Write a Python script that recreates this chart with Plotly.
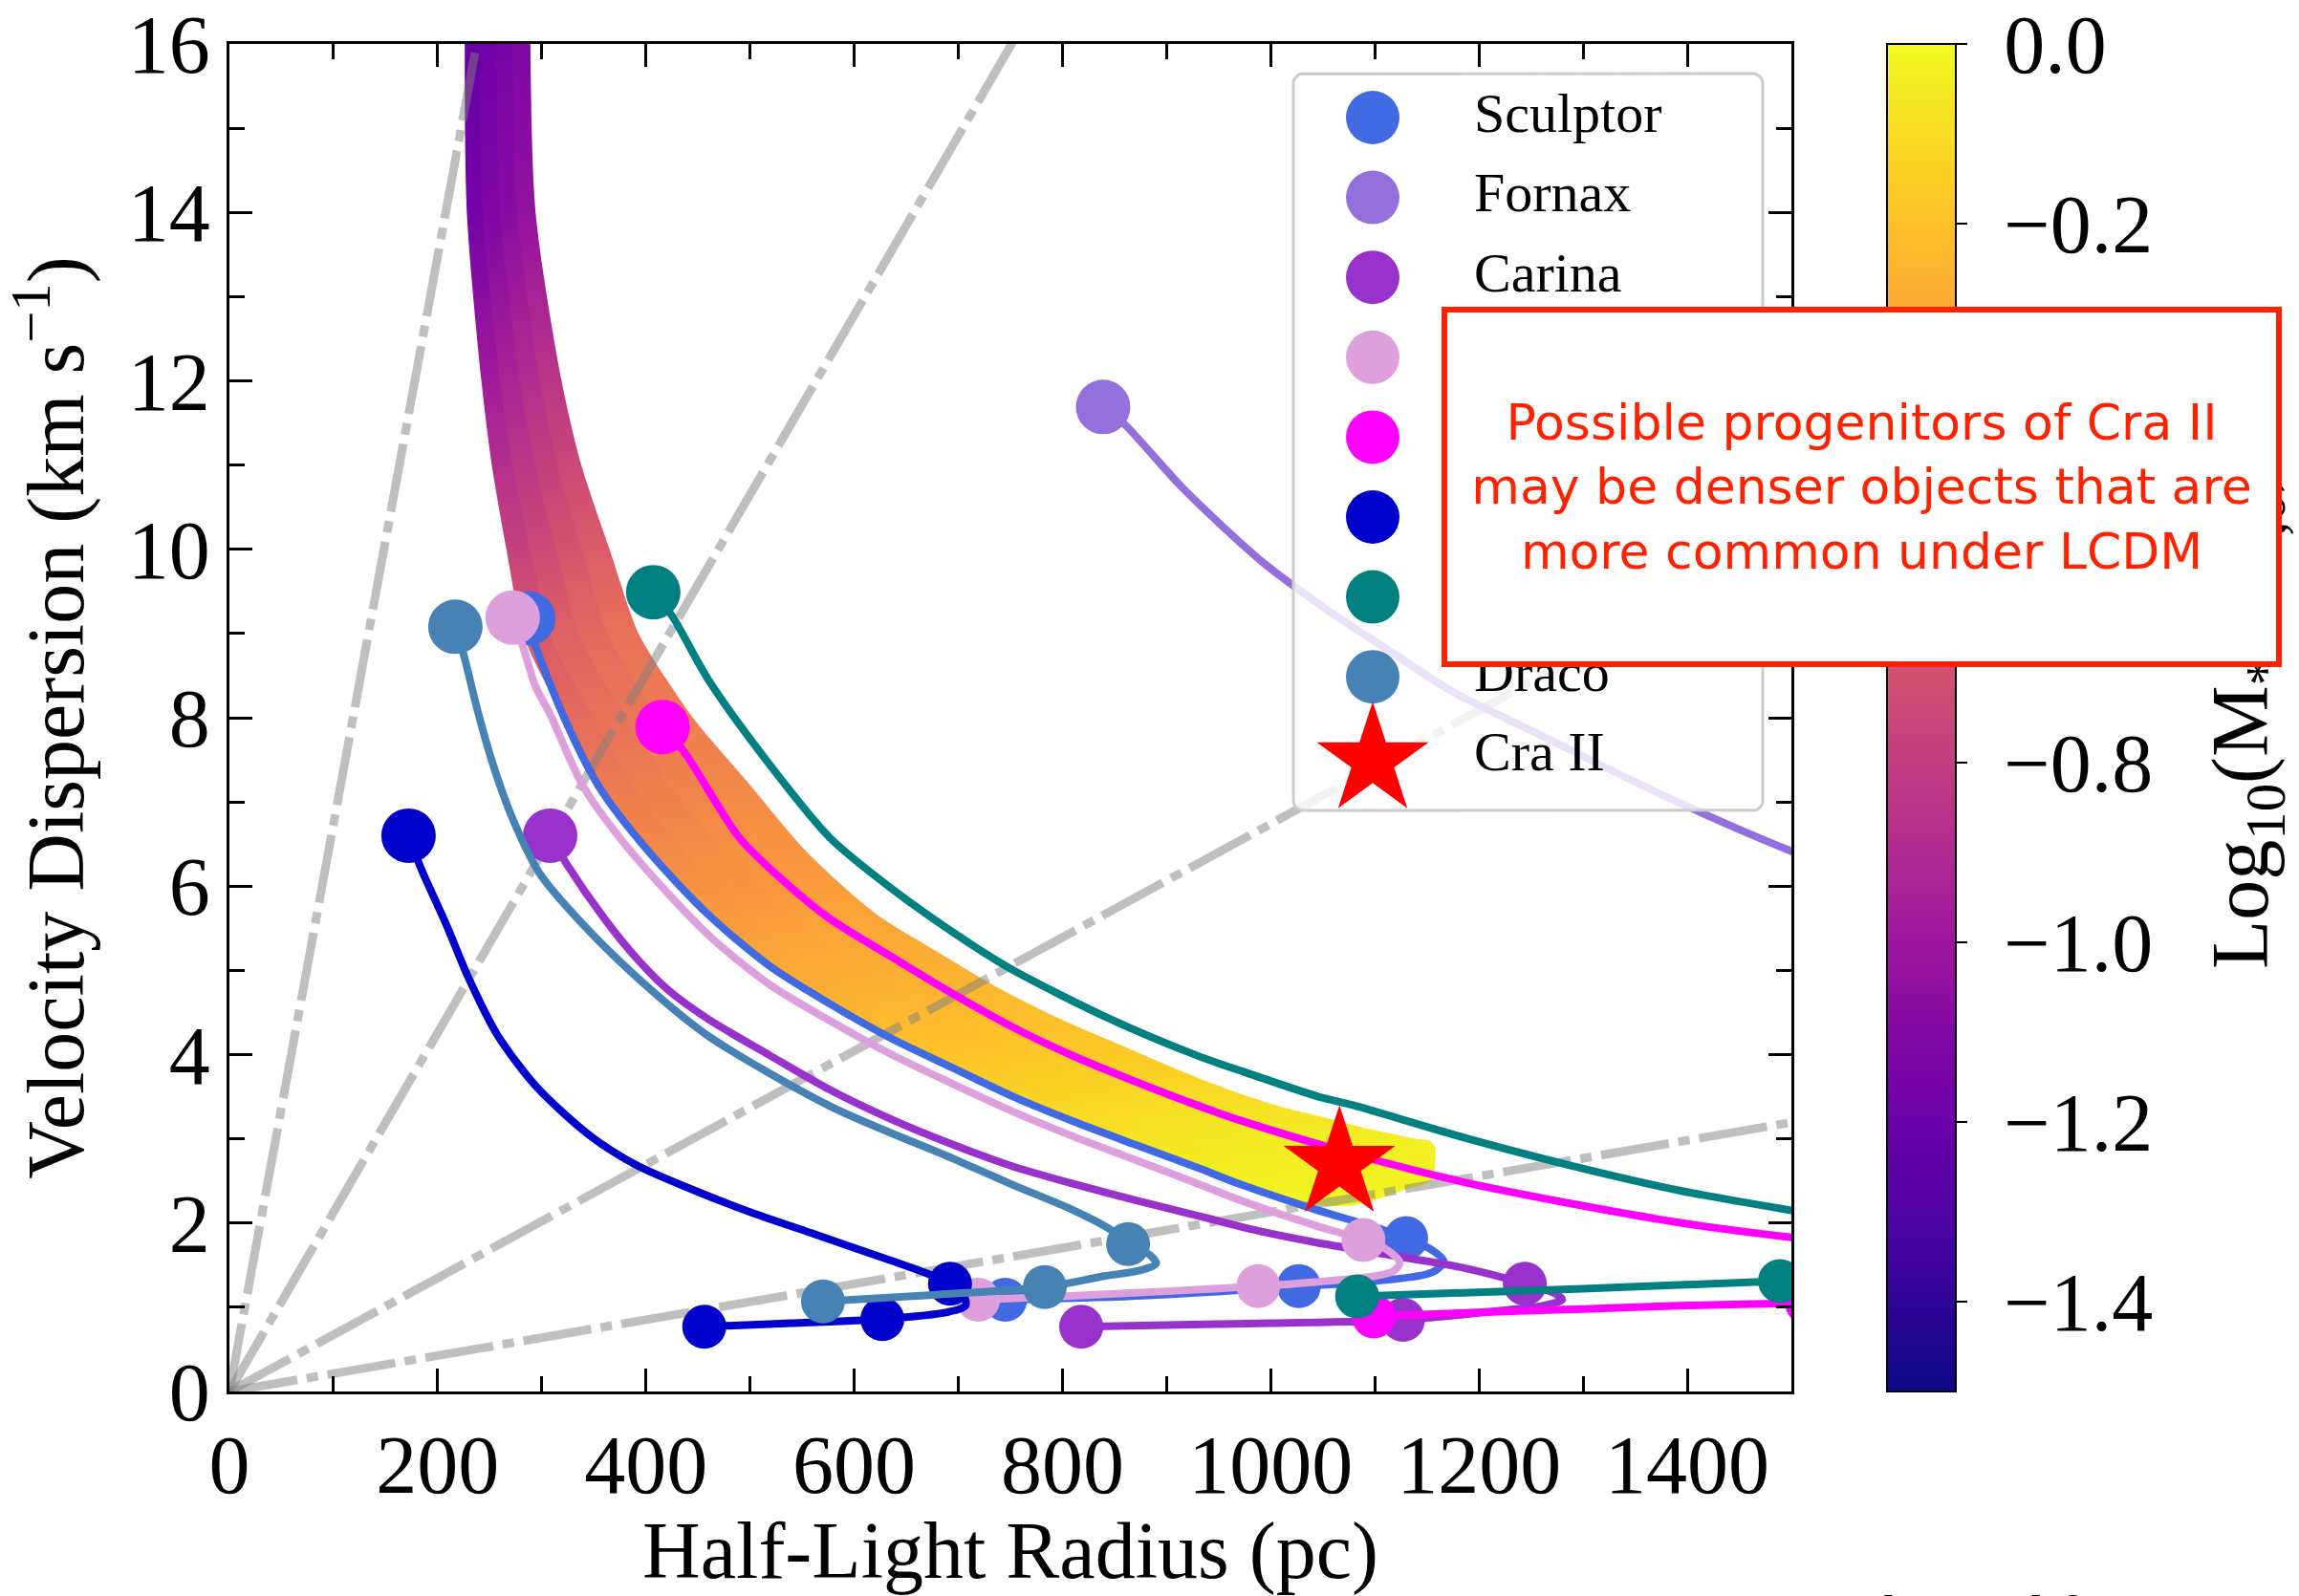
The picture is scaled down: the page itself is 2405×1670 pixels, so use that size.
import math
import plotly.graph_objects as go
from plotly.colors import sample_colorscale

# ---------------------------------------------------------------------------
# Data: tidal tracks of the classical dwarf spheroidals
# (half-light radius in pc, line-of-sight velocity dispersion in km/s)
# ---------------------------------------------------------------------------
galaxy_names = ["Sculptor", "Fornax", "Carina", "Sextans",
                "Leo I", "Leo II", "Ursa Minor", "Draco"]
galaxy_colors = ["#4169E1", "#9370DB", "#9932CC", "#DDA0DD",
                 "#FF00FF", "#0000CD", "#008080", "#4682B4"]

sculptor_r = [287, 291, 320, 355, 402, 460, 519, 577, 636, 695, 753, 812, 870, 929,
              973, 1043, 1100, 1130, 1152, 1166, 1160, 1149, 1092, 1027, 940, 863, 745]
sculptor_v = [9.18, 8.96, 8.04, 7.18, 6.42, 5.66, 5.05, 4.60, 4.19, 3.84, 3.50, 3.20, 2.93, 2.66,
              2.45, 2.16, 1.95, 1.82, 1.70, 1.55, 1.45, 1.39, 1.30, 1.25, 1.18, 1.13, 1.09]
sculptor_marks = [0, 17, 23, 26]

fornax_r = [839, 860, 916, 991, 1052, 1117, 1173, 1258, 1351, 1445, 1499, 1540]
fornax_v = [11.69, 11.48, 10.72, 9.86, 9.30, 8.77, 8.32, 7.80, 7.23, 6.70, 6.42, 6.22]
fornax_marks = [0]

carina_r = [308, 324, 361, 392, 422, 460, 519, 577, 636, 695, 753, 812, 870, 929,
            987, 1043, 1114, 1184, 1244, 1272, 1280, 1262, 1220, 1127, 1000, 900, 818]
carina_v = [6.60, 6.26, 5.60, 5.13, 4.76, 4.42, 3.99, 3.58, 3.23, 2.93, 2.67, 2.46, 2.27, 2.09,
            1.91, 1.77, 1.62, 1.47, 1.28, 1.17, 1.09, 1.02, 0.96, 0.85, 0.81, 0.79, 0.77]
carina_marks = [0, 18, 23, 26]

sextans_r = [272, 281, 294, 308, 340, 385, 460, 519, 577, 636, 695, 753, 812, 870,
             929, 973, 1043, 1089, 1112, 1124, 1118, 1100, 1043, 988, 900, 800, 719]
sextans_v = [9.19, 8.88, 8.37, 8.04, 7.18, 6.42, 5.42, 4.83, 4.40, 4.00, 3.65, 3.32, 3.02, 2.75,
             2.47, 2.26, 1.97, 1.80, 1.68, 1.53, 1.43, 1.37, 1.30, 1.25, 1.19, 1.13, 1.09]
sextans_marks = [0, 17, 23, 26]

leo1_r = [416, 437, 490, 536, 577, 636, 695, 753, 811, 870, 929, 973, 1079, 1184, 1289, 1395,
          1500, 1540, None, 1540, 1515, 1400, 1300, 1200, 1099]
leo1_v = [7.89, 7.59, 6.57, 6.02, 5.61, 5.16, 4.72, 4.32, 3.98, 3.68, 3.40, 3.21, 2.82, 2.49, 2.23, 2.00,
          1.83, 1.78, None, 1.06, 1.05, 1.02, 0.98, 0.94, 0.89]
leo1_marks = [0, 20, 24]

leo2_r = [172, 184, 208, 230, 257, 294, 346, 392, 444, 500, 559, 620, 666, 692,
          705, 707, 689, 627, 540, 456]
leo2_v = [6.60, 6.21, 5.55, 4.90, 4.24, 3.63, 3.04, 2.68, 2.40, 2.13, 1.88, 1.62, 1.42, 1.28,
          1.15, 1.02, 0.94, 0.86, 0.81, 0.77]
leo2_marks = [0, 13, 17, 19]

umi_r = [407, 425, 460, 519, 577, 636, 706, 753, 841, 929, 973, 1046, 1079, 1184, 1289, 1395,
         1500, 1560, None, 1560, 1489, 1300, 1083]
umi_v = [9.49, 9.21, 8.45, 7.44, 6.57, 5.97, 5.36, 5.00, 4.45, 3.99, 3.80, 3.50, 3.40, 3.02, 2.68, 2.38,
         2.15, 2.03, None, 1.33, 1.31, 1.22, 1.13]
umi_marks = [0, 20, 22]

draco_r = [217, 226, 238, 253, 272, 298, 343, 402, 460, 578, 694, 753, 811, 845,
           863, 884, 890, 875, 840, 783, 680, 570]
draco_v = [9.08, 8.70, 8.10, 7.45, 6.80, 6.15, 5.50, 4.80, 4.22, 3.38, 2.77, 2.45, 2.15, 1.93,
           1.75, 1.62, 1.52, 1.44, 1.37, 1.24, 1.15, 1.07]
draco_marks = [0, 14, 19, 21]

track_r = [sculptor_r, fornax_r, carina_r, sextans_r, leo1_r, leo2_r, umi_r, draco_r]
track_v = [sculptor_v, fornax_v, carina_v, sextans_v, leo1_v, leo2_v, umi_v, draco_v]
track_marks = [sculptor_marks, fornax_marks, carina_marks, sextans_marks,
               leo1_marks, leo2_marks, umi_marks, draco_marks]

# Crater II today
cra2_r = [1066]
cra2_v = [2.7]

# Envelope of the progenitor tracks (inner and outer edge, matched cross-sections)
band_in_r = [226, 228, 242, 252, 266, 282, 301, 320, 355, 402, 460, 519, 577, 636,
             695, 753, 812, 870, 929, 987, 1040, 1080, 1125, 1156]
band_in_v = [16.1, 14.0, 12.0, 11.0, 10.0, 9.0, 8.47, 8.04, 7.18, 6.42, 5.66, 5.05, 4.60, 4.19,
             3.84, 3.50, 3.20, 2.93, 2.66, 2.40, 2.22, 2.21, 2.38, 2.52]
band_out_r = [289, 294, 319, 338, 365, 393, 420, 445, 500, 555, 620, 680, 740, 800,
              860, 915, 965, 1010, 1050, 1090, 1120, 1140, 1152, 1158]
band_out_v = [16.1, 14.0, 12.0, 11.0, 10.0, 9.0, 8.45, 8.0, 7.2, 6.4, 5.68, 5.22, 4.78, 4.41,
              4.09, 3.80, 3.56, 3.38, 3.26, 3.13, 3.05, 3.0, 2.98, 2.90]

# Remaining mass fraction (log10) along the envelope, versus velocity dispersion
band_grad_v = [2.2, 3.0, 4.0, 5.0, 6.0, 7.0, 8.0, 9.0, 10.0, 12.0, 14.0, 16.0]
band_logm_in = [0.0, -0.08, -0.20, -0.30, -0.40, -0.49, -0.58, -0.68, -0.80, -1.00, -1.18, -1.22]
band_logm_out = [0.0, -0.03, -0.16, -0.26, -0.34, -0.41, -0.47, -0.52, -0.62, -0.82, -1.02, -1.10]

# Lines of constant sigma / r_h (km/s per pc)
ray_slopes = [0.0674, 0.0213, 0.00674, 0.00213]

# Axes and colour bar
x_range = [0, 1500]
y_range = [0, 16]
x_ticks = [0, 200, 400, 600, 800, 1000, 1200, 1400]
y_ticks = [0, 2, 4, 6, 8, 10, 12, 14, 16]
cb_range = [-1.5, 0.0]
cb_ticks = [0.0, -0.2, -0.4, -0.6, -0.8, -1.0, -1.2, -1.4]

# ---------------------------------------------------------------------------
# Layout geometry (pixels)
# ---------------------------------------------------------------------------
FIG_W, FIG_H = 2405, 1670
PL, PR, PT, PB = 240, 1874, 46, 1456

SERIF = "Liberation Serif, Times New Roman, serif"
TICK_FONT = 86
TITLE_FONT = 84
LINE_W = 8


def paper_x(px):
    return (px - PL) / (PR - PL)


def paper_y(py):
    return (PB - py) / (PB - PT)


fig = go.Figure()

# ---- coloured envelope, drawn as strips with vertical gradients ----
def gradient_scale(logm):
    cols = sample_colorscale("Plasma", [(m - cb_range[0]) / (cb_range[1] - cb_range[0]) for m in logm])
    pos = [v / y_range[1] for v in band_grad_v]
    scale = [[0.0, cols[0]]] if pos[0] > 0 else []
    scale += [[min(p, 1.0), c] for p, c in zip(pos, cols)]
    if scale[-1][0] < 1.0:
        scale.append([1.0, cols[-1]])
    return scale


n_strips = 4
for k in range(n_strips):
    a = max(0.0, k / n_strips - 0.02)
    b = min(1.0, (k + 1) / n_strips + 0.02)
    mid = (k + 0.5) / n_strips
    logm = [(1 - mid) * i + mid * o for i, o in zip(band_logm_in, band_logm_out)]
    ea_x = [ri + a * (ro - ri) for ri, ro in zip(band_in_r, band_out_r)]
    ea_y = [vi + a * (vo - vi) for vi, vo in zip(band_in_v, band_out_v)]
    eb_x = [ri + b * (ro - ri) for ri, ro in zip(band_in_r, band_out_r)]
    eb_y = [vi + b * (vo - vi) for vi, vo in zip(band_in_v, band_out_v)]
    fig.add_trace(go.Scatter(
        x=ea_x + eb_x[::-1], y=ea_y + eb_y[::-1],
        mode="lines", line=dict(width=0, shape="spline", smoothing=0.8), fill="toself",
        fillgradient=dict(type="vertical", colorscale=gradient_scale(logm),
                          start=y_range[0], stop=y_range[1]),
        hoverinfo="skip", showlegend=False))

# ---- dash-dot reference lines through the origin ----
for s in ray_slopes:
    fig.add_trace(go.Scatter(
        x=[0, x_range[1]], y=[0, s * x_range[1]], mode="lines",
        line=dict(color="rgba(128,128,128,0.5)", width=9, dash="72px,10px,12px,10px"),
        hoverinfo="skip", showlegend=False))

# ---- galaxy tracks ----
for name, col, r, v, marks in zip(galaxy_names, galaxy_colors, track_r, track_v, track_marks):
    fig.add_trace(go.Scatter(
        x=r, y=v, mode="lines", line=dict(color=col, width=LINE_W, shape="spline", smoothing=0.8),
        connectgaps=False, hoverinfo="skip", showlegend=False, name=name))
    fig.add_trace(go.Scatter(
        x=[r[i] for i in marks], y=[v[i] for i in marks], mode="markers",
        marker=dict(color=col, opacity=1, size=[57 if j == 0 else 46 for j in range(len(marks))],
                    line=dict(width=0)),
        hoverinfo="skip", showlegend=False, name=name))

# ---- Crater II ----
fig.add_trace(go.Scatter(
    x=cra2_r, y=cra2_v, mode="markers",
    marker=dict(symbol="star", size=88, color="#FF0000", opacity=1, line=dict(width=0)),
    hoverinfo="skip", showlegend=False, name="Cra II"))

# ---- colour bar carrier ----
fig.add_trace(go.Scatter(
    x=[None], y=[None], mode="markers", showlegend=False, hoverinfo="skip",
    marker=dict(color=[cb_range[0]], cmin=cb_range[0], cmax=cb_range[1], colorscale="Plasma",
                showscale=True,
                colorbar=dict(
                    x=paper_x(1974), xanchor="left", y=0.5, yanchor="middle",
                    len=1.0, lenmode="fraction", thickness=72, thicknessmode="pixels",
                    xpad=0, ypad=0, outlinewidth=2, outlinecolor="black",
                    ticks="outside", ticklen=11, tickwidth=2, tickcolor="black",
                    ticklabeloverflow="allow",
                    tickvals=cb_ticks,
                    ticktext=["\u00a0" + ("\u2212" if t < 0 else "") + f"{abs(t):.1f}" for t in cb_ticks],
                    tickfont=dict(family=SERIF, size=TICK_FONT, color="black")))))

# ---- legend panel (drawn on its own overlay axes, in pixel units) ----
LEG_L, LEG_R, LEG_T, LEG_B = 1353, 1844, 77, 848
leg_w, leg_h = LEG_R - LEG_L, LEG_B - LEG_T
pad = 12
rad = 10
corner_pts = []
for cx, cy, a0 in [(leg_w - rad, leg_h - rad, 0), (rad, leg_h - rad, 90),
                   (rad, rad, 180), (leg_w - rad, rad, 270)]:
    for j in range(7):
        ang = math.radians(a0 + j * 15)
        corner_pts.append((cx + rad * math.cos(ang), cy + rad * math.sin(ang)))
corner_pts.append(corner_pts[0])
fig.add_trace(go.Scatter(
    x=[p[0] for p in corner_pts], y=[p[1] for p in corner_pts], xaxis="x2", yaxis="y2",
    mode="lines", fill="toself", fillcolor="rgba(255,255,255,0.8)",
    line=dict(color="#CCCCCC", width=3), hoverinfo="skip", showlegend=False))

row_y = [leg_h - 46 - i * 83.6 for i in range(len(galaxy_names) + 1)]
fig.add_trace(go.Scatter(
    x=[83] * len(galaxy_names), y=row_y[:len(galaxy_names)], xaxis="x2", yaxis="y2",
    mode="markers", marker=dict(color=galaxy_colors, size=56, opacity=1, line=dict(width=0)),
    hoverinfo="skip", showlegend=False))
fig.add_trace(go.Scatter(
    x=[83], y=[row_y[-1] - 4], xaxis="x2", yaxis="y2", mode="markers",
    marker=dict(symbol="star", size=88, color="#FF0000", opacity=1, line=dict(width=0)),
    hoverinfo="skip", showlegend=False))
fig.add_trace(go.Scatter(
    x=[189] * (len(galaxy_names) + 1), y=row_y, xaxis="x2", yaxis="y2",
    mode="text", text=galaxy_names + ["Cra II"], textposition="middle right",
    textfont=dict(family=SERIF, size=58, color="black"),
    hoverinfo="skip", showlegend=False))

axis_common = dict(
    showline=True, linewidth=3, linecolor="black", mirror="allticks",
    ticks="inside", ticklen=24, tickwidth=3, tickcolor="black",
    showgrid=False, zeroline=False, ticklabeloverflow="allow",
    tickfont=dict(family=SERIF, size=TICK_FONT, color="black"),
)

fig.update_layout(
    width=FIG_W, height=FIG_H,
    margin=dict(l=PL, r=FIG_W - PR, t=PT, b=FIG_H - PB, autoexpand=False),
    paper_bgcolor="white", plot_bgcolor="rgba(0,0,0,0)",
    showlegend=False,
    xaxis=dict(range=x_range, tickvals=x_ticks, **axis_common,
               minor=dict(ticks="inside", ticklen=16, tickwidth=3, tickcolor="black",
                          tickvals=[t + 100 for t in x_ticks]),
               title=dict(text="Half-Light Radius (pc)", standoff=26,
                          font=dict(family=SERIF, size=TITLE_FONT, color="black"))),
    yaxis=dict(range=y_range, tickvals=y_ticks, **axis_common,
               minor=dict(ticks="inside", ticklen=16, tickwidth=3, tickcolor="black",
                          tickvals=[t + 1 for t in y_ticks[:-1]]),
               title=dict(text="Velocity Dispersion (km s<sup>\u22121</sup>)", standoff=30,
                          font=dict(family=SERIF, size=TITLE_FONT, color="black"))),
    xaxis2=dict(domain=[paper_x(LEG_L - pad), paper_x(LEG_R + pad)], range=[-pad, leg_w + pad],
                anchor="y2", visible=False, fixedrange=True),
    yaxis2=dict(domain=[paper_y(LEG_B + pad), paper_y(LEG_T - pad)], range=[-pad, leg_h + pad],
                anchor="x2", visible=False, fixedrange=True),
    annotations=[
        # colour-bar label
        dict(text="Log<sub>10</sub>(M<sub>*</sub>/M<sub>*,0</sub>)", textangle=-90,
             xref="paper", yref="paper", x=paper_x(2350), y=paper_y(751),
             xanchor="center", yanchor="middle", showarrow=False,
             font=dict(family=SERIF, size=TITLE_FONT, color="black")),
        # source credit along the bottom edge (runs off the page)
        dict(text="<b>Adapted from</b>", xref="paper", yref="paper",
             x=paper_x(1905), y=paper_y(1657), xanchor="left", yanchor="top",
             showarrow=False, borderpad=0,
             font=dict(family="Liberation Sans, Arial, sans-serif", size=58, color="black")),
        # call-out box
        dict(text="Possible progenitors of Cra II<br>may be denser objects that are<br>more common under LCDM",
             xref="paper", yref="paper", x=paper_x((1508 + 2387) / 2), y=paper_y((321 + 698) / 2),
             xanchor="center", yanchor="middle", showarrow=False,
             width=867, height=365, align="center", valign="middle",
             bgcolor="white", bordercolor="#FF2200", borderwidth=6, borderpad=0,
             font=dict(family="DejaVu Sans, sans-serif", size=52, color="#FF2200")),
    ],
)

fig.write_html("out.html")
